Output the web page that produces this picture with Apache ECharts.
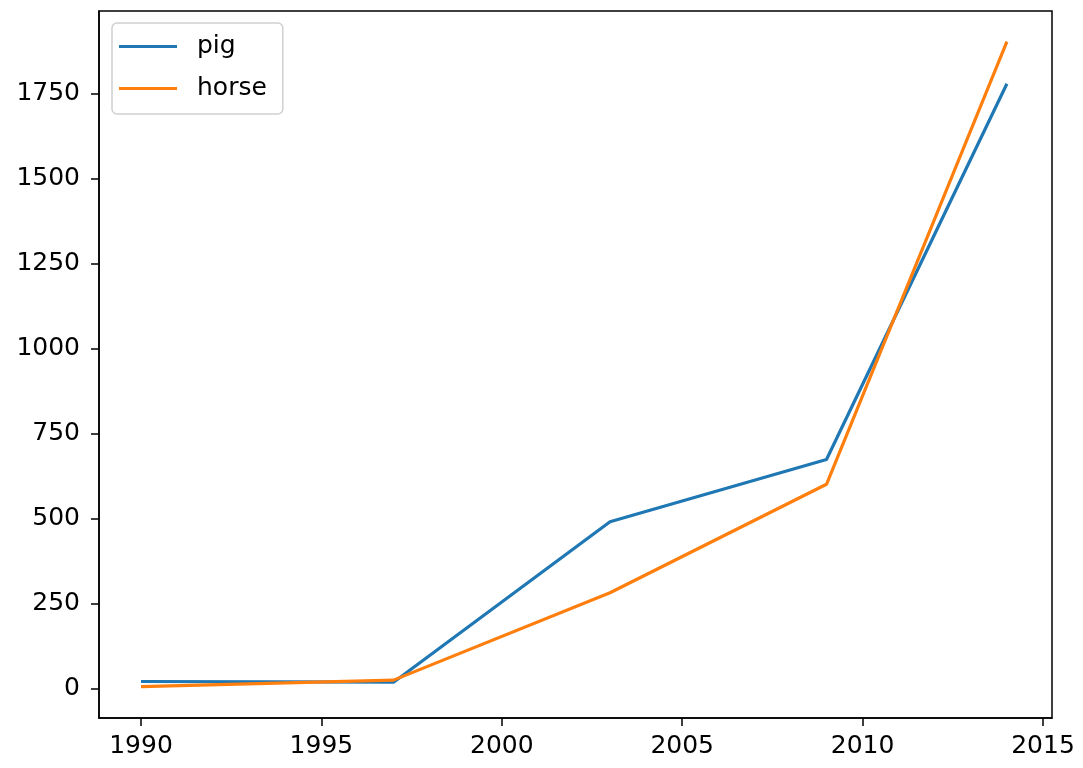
<!DOCTYPE html>
<html>
<head>
<meta charset="utf-8">
<script src="https://cdn.jsdelivr.net/npm/echarts@6/dist/echarts.min.js"></script>
<style>
html,body{margin:0;padding:0;background:#fff;}
#chart{width:1083px;height:768px;}
</style>
</head>
<body>
<div id="chart"></div>
<script>
var years = [1990, 1997, 2003, 2009, 2014];
var pigValues = [20, 18, 490, 673, 1778];
var horseValues = [5, 24, 281, 600, 1902];
var xTicks = [1990, 1995, 2000, 2005, 2010, 2015];
var yTicks = [0, 250, 500, 750, 1000, 1250, 1500, 1750];

function pairs(xs, ys) { return xs.map(function (x, i) { return [x, ys[i]]; }); }

var chart = echarts.init(document.getElementById('chart'), null, {renderer: 'canvas'});
var font = 'DejaVu Sans';
var fs = 25;
function plain(v) { return String(Math.round(v)); }
chart.setOption({
  animation: false,
  backgroundColor: '#fff',
  grid: {left: 99, right: 31, top: 11, bottom: 50, show: true, borderColor: '#000', borderWidth: 1.5, backgroundColor: 'transparent'},
  legend: {
    orient: 'vertical', left: 112, top: 23,
    padding: [11, 16, 13, 7],
    backgroundColor: '#fff', borderColor: '#d0d0d0', borderWidth: 1.5, borderRadius: 5,
    icon: 'rect', itemWidth: 58, itemHeight: 3, itemGap: 17,
    textStyle: {fontFamily: font, fontSize: fs, color: '#000', lineHeight: 24, padding: [0, 0, 0, 15]},
    data: ['pig', 'horse']
  },
  xAxis: {
    type: 'value', min: 1988.836, max: 2015.25,
    axisLine: {show: true, onZero: false, lineStyle: {color: '#000', width: 1.5}},
    axisTick: {show: true, customValues: xTicks, length: 8, lineStyle: {color: '#000', width: 1.5}},
    axisLabel: {customValues: xTicks, formatter: plain, fontFamily: font, fontSize: fs, color: '#000', margin: 16},
    splitLine: {show: false}
  },
  yAxis: {
    type: 'value', min: -87.4, max: 1992,
    axisLine: {show: true, onZero: false, lineStyle: {color: '#000', width: 1.5}},
    axisTick: {show: true, customValues: yTicks, length: 8, lineStyle: {color: '#000', width: 1.5}},
    axisLabel: {customValues: yTicks, formatter: plain, fontFamily: font, fontSize: fs, color: '#000', margin: 19},
    splitLine: {show: false}
  },
  series: [
    {name: 'pig', type: 'line', data: pairs(years, pigValues), symbol: 'none', lineStyle: {color: '#1f77b4', width: 3.2}, itemStyle: {color: '#1f77b4'}},
    {name: 'horse', type: 'line', data: pairs(years, horseValues), symbol: 'none', lineStyle: {color: '#ff7f0e', width: 3.2}, itemStyle: {color: '#ff7f0e'}}
  ]
});
</script>
</body>
</html>
